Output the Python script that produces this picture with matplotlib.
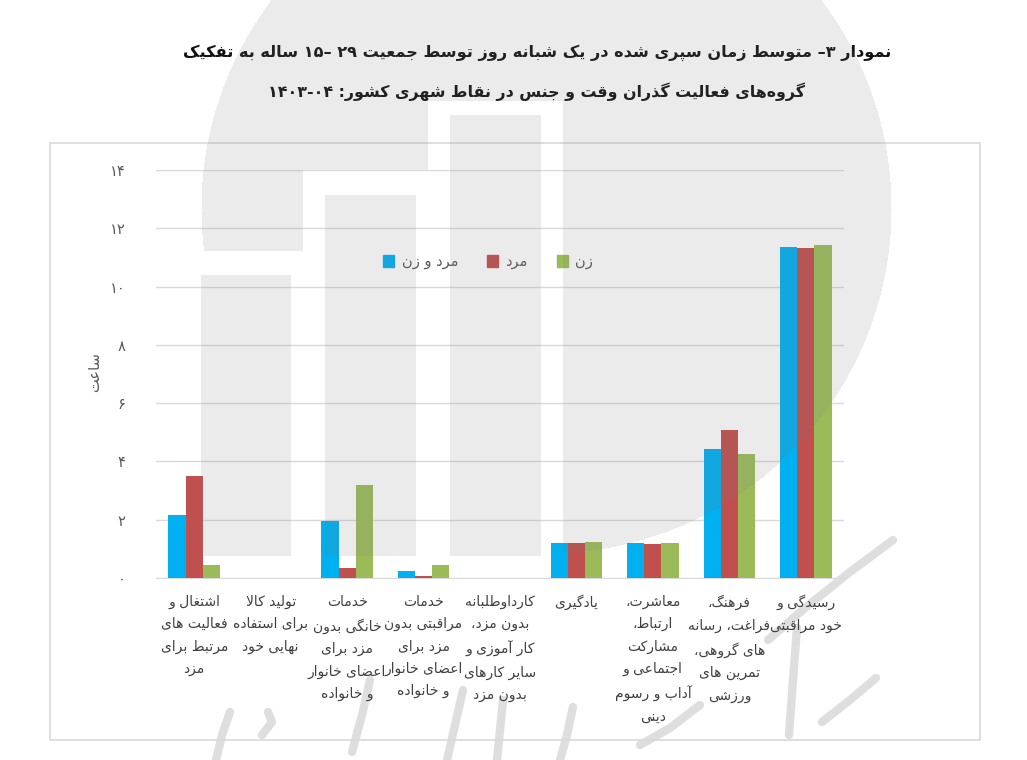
import matplotlib
matplotlib.use("Agg")
import matplotlib.pyplot as plt
from matplotlib.patches import Rectangle, Patch
import numpy as np

# data (hours per day)
categories = [
    "اشتغال و\nفعالیت های\nمرتبط برای\nمزد",
    "تولید کالا\nبرای استفاده\nنهایی خود",
    "خدمات\nخانگی بدون\nمزد برای\nاعضای خانوار\nو خانواده",
    "خدمات\nمراقبتی بدون\nمزد برای\nاعضای خانوار\nو خانواده",
    "کارداوطلبانه\nبدون مزد،\nکار آموزی و\nسایر کارهای\nبدون مزد",
    "یادگیری",
    "معاشرت،\nارتباط،\nمشارکت\nاجتماعی و\nآداب و رسوم\nدینی",
    "فرهنگ،\nفراغت، رسانه\nهای گروهی،\nتمرین های\nورزشی",
    "رسیدگی و\nخود مراقبتی",
]
both = [2.16, 0.0, 1.97, 0.23, 0.0, 1.19, 1.19, 4.44, 11.37]
men = [3.50, 0.0, 0.33, 0.07, 0.0, 1.19, 1.17, 5.07, 11.33]
women = [0.45, 0.01, 3.19, 0.43, 0.0, 1.23, 1.21, 4.25, 11.43]
series_names = ["مرد و زن", "مرد", "زن"]
yticks = [0, 2, 4, 6, 8, 10, 12, 14]
title1 = "نمودار ۳– متوسط زمان سپری شده در یک شبانه روز توسط جمعیت ۲۹ –۱۵ ساله به تفکیک"
title2 = "گروه‌های فعالیت گذران وقت و جنس در نقاط شهری کشور: ۱۴۰۳-۰۴"
ylabel = "ساعت"

# ---- simple persian shaping + visual order (no reshaper lib available) ----
DUAL = {
    'ئ': (0xFE89, 0xFE8A, 0xFE8B, 0xFE8C), 'ب': (0xFE8F, 0xFE90, 0xFE91, 0xFE92),
    'ت': (0xFE95, 0xFE96, 0xFE97, 0xFE98), 'ث': (0xFE99, 0xFE9A, 0xFE9B, 0xFE9C),
    'ج': (0xFE9D, 0xFE9E, 0xFE9F, 0xFEA0), 'ح': (0xFEA1, 0xFEA2, 0xFEA3, 0xFEA4),
    'خ': (0xFEA5, 0xFEA6, 0xFEA7, 0xFEA8), 'س': (0xFEB1, 0xFEB2, 0xFEB3, 0xFEB4),
    'ش': (0xFEB5, 0xFEB6, 0xFEB7, 0xFEB8), 'ص': (0xFEB9, 0xFEBA, 0xFEBB, 0xFEBC),
    'ض': (0xFEBD, 0xFEBE, 0xFEBF, 0xFEC0), 'ط': (0xFEC1, 0xFEC2, 0xFEC3, 0xFEC4),
    'ظ': (0xFEC5, 0xFEC6, 0xFEC7, 0xFEC8), 'ع': (0xFEC9, 0xFECA, 0xFECB, 0xFECC),
    'غ': (0xFECD, 0xFECE, 0xFECF, 0xFED0), 'ف': (0xFED1, 0xFED2, 0xFED3, 0xFED4),
    'ق': (0xFED5, 0xFED6, 0xFED7, 0xFED8), 'ك': (0xFED9, 0xFEDA, 0xFEDB, 0xFEDC),
    'ل': (0xFEDD, 0xFEDE, 0xFEDF, 0xFEE0), 'م': (0xFEE1, 0xFEE2, 0xFEE3, 0xFEE4),
    'ن': (0xFEE5, 0xFEE6, 0xFEE7, 0xFEE8), 'ه': (0xFEE9, 0xFEEA, 0xFEEB, 0xFEEC),
    'ي': (0xFEF1, 0xFEF2, 0xFEF3, 0xFEF4), 'پ': (0xFB56, 0xFB57, 0xFB58, 0xFB59),
    'چ': (0xFB7A, 0xFB7B, 0xFB7C, 0xFB7D), 'ک': (0xFB8E, 0xFB8F, 0xFB90, 0xFB91),
    'گ': (0xFB92, 0xFB93, 0xFB94, 0xFB95), 'ی': (0xFBFC, 0xFBFD, 0xFBFE, 0xFBFF),
}
RIGHT = {
    'آ': (0xFE81, 0xFE82), 'أ': (0xFE83, 0xFE84), 'ؤ': (0xFE85, 0xFE86),
    'إ': (0xFE87, 0xFE88), 'ا': (0xFE8D, 0xFE8E), 'ة': (0xFE93, 0xFE94),
    'د': (0xFEA9, 0xFEAA), 'ذ': (0xFEAB, 0xFEAC), 'ر': (0xFEAD, 0xFEAE),
    'ز': (0xFEAF, 0xFEB0), 'و': (0xFEED, 0xFEEE), 'ژ': (0xFB8A, 0xFB8B),
}
LAMALEF = {'آ': (0xFEF5, 0xFEF6), 'أ': (0xFEF7, 0xFEF8), 'إ': (0xFEF9, 0xFEFA), 'ا': (0xFEFB, 0xFEFC)}


def shape(s):
    # merge lam+alef first
    chars = []
    i = 0
    while i < len(s):
        if s[i] == 'ل' and i + 1 < len(s) and s[i + 1] in LAMALEF:
            chars.append(('LA', s[i + 1]))
            i += 2
        else:
            chars.append(('C', s[i]))
            i += 1

    def joins_next(item):  # can connect to the following letter
        return item[0] == 'C' and item[1] in DUAL

    def joins_prev(item):  # can connect to the preceding letter
        return item[0] == 'LA' or item[1] in DUAL or item[1] in RIGHT

    out = []
    for k, item in enumerate(chars):
        prev = chars[k - 1] if k > 0 else None
        nxt = chars[k + 1] if k + 1 < len(chars) else None
        p = prev is not None and joins_next(prev) and joins_prev(item)
        n = nxt is not None and joins_next(item) and joins_prev(nxt)
        if item[0] == 'LA':
            out.append(chr(LAMALEF[item[1]][1 if p else 0]))
            continue
        c = item[1]
        if c in DUAL:
            f = DUAL[c]
            out.append(chr(f[3] if (p and n) else f[1] if p else f[2] if n else f[0]))
        elif c in RIGHT:
            out.append(chr(RIGHT[c][1 if p else 0]))
        elif c == '\u200c':
            continue
        else:
            out.append(c)
    return ''.join(out)


def visual(s):
    s = shape(s)[::-1]
    res, run = [], []
    for c in s:
        if c.isdigit() or (c == '-' and run):
            run.append(c)
        else:
            if run:
                res.append(''.join(run[::-1]))
                run = []
            res.append(c)
    if run:
        res.append(''.join(run[::-1]))
    return ''.join(res)


def fa(s):
    return '\n'.join(visual(line) for line in s.split('\n'))


def fa_num(n):
    return str(n).translate(str.maketrans('0123456789', '۰۱۲۳۴۵۶۷۸۹'))


plt.rcParams['font.family'] = ['DejaVu Sans']

fig = plt.figure(figsize=(10.27, 7.6), dpi=100)
W, H = 1027, 760

# watermark logo (light grey overlay)
yy, xx = np.mgrid[0:H, 0:W]
circle = (xx - 546) ** 2 + (yy - 208) ** 2 <= 345 ** 2
cut = ((xx >= 180) & (xx <= 324) & (yy >= 251)) | ((xx >= 303) & (xx <= 449) & (yy >= 170)) | \
      ((xx >= 428) & (xx <= 562) & (yy >= 101))
bars_logo = ((xx >= 201) & (xx <= 290) & (yy >= 275) & (yy <= 555)) | \
            ((xx >= 325) & (xx <= 415) & (yy >= 195) & (yy <= 555)) | \
            ((xx >= 450) & (xx <= 540) & (yy >= 115) & (yy <= 555))
mask = (circle & ~cut) | bars_logo
overlay = np.zeros((H, W, 4))
overlay[..., :3] = 0.5
overlay[..., 3] = np.where(mask, 0.15, 0.0)
fig.figimage(overlay, 0, 0, origin='upper', zorder=5)

# calligraphy strokes of the watermark (rough), behind the axes
strokes = [
    [(893, 540), (850, 572), (805, 608), (768, 640)],
    [(797, 628), (793, 680), (789, 735)],
    [(876, 678), (850, 700), (822, 722)],
    [(230, 712), (222, 735), (216, 760)],
    [(268, 712), (272, 722), (262, 735)],
    [(370, 680), (362, 715), (352, 752)],
    [(463, 690), (455, 725), (447, 760)],
    [(503, 700), (500, 730), (497, 760)],
    [(573, 707), (567, 735), (560, 760)],
    [(700, 705), (670, 728), (640, 745)],
]
for pts in strokes:
    px = [p[0] / W for p in pts]
    py = [1 - p[1] / H for p in pts]
    fig.add_artist(plt.Line2D(px, py, transform=fig.transFigure, color='#dedede',
                              lw=6, solid_capstyle='round', solid_joinstyle='round', zorder=-2))

# outer frame
fig.add_artist(Rectangle((50 / W, 1 - 740 / H), 930 / W, (740 - 143) / H, transform=fig.transFigure,
                         fill=False, ec='#d9d9d9', lw=1.2, zorder=-1))

ax = fig.add_axes([156 / W, 1 - 578 / H, 688 / W, 408 / H])
ax.patch.set_alpha(0)
x = np.arange(len(categories))
bw = 0.225
colors = ['#00B0F0', '#C0504D', '#9BBB59']
for k, vals in enumerate([both, men, women]):
    ax.bar(x + (k - 1) * bw, vals, width=bw, color=colors[k], zorder=3)

ax.set_xlim(-0.5, len(categories) - 0.5)
ax.set_ylim(0, 14)
ax.set_yticks(yticks)
ax.set_yticklabels([fa_num(v) for v in yticks], fontsize=10.5, color='#595959')
ax.set_xticks(x)
ax.set_xticklabels([fa(c) for c in categories], fontsize=10, color='#404040', linespacing=1.75, va='top')
ax.tick_params(axis='both', length=0)
ax.tick_params(axis='y', pad=22)
ax.tick_params(axis='x', pad=12)
ax.yaxis.grid(True, color='#d9d9d9', lw=1)
ax.set_axisbelow(True)
for sp in ['top', 'right', 'left']:
    ax.spines[sp].set_visible(False)
ax.spines['bottom'].set_color('#d9d9d9')

handles = [Patch(color=c) for c in colors]
ax.legend(handles, [fa(n) for n in series_names], loc='center', bbox_to_anchor=(0.483, 0.775), ncol=3,
          frameon=False, fontsize=10.5, handlelength=0.75, handleheight=0.9, handletextpad=0.5,
          columnspacing=2.0, labelcolor='#595959')

fig.text(95 / W, 1 - 372 / H, fa(ylabel), rotation=90, ha='center', va='center', fontsize=10.5, color='#595959')
fig.text(537 / W, 1 - 53 / H, fa(title1), ha='center', va='center', fontsize=11.6, fontweight='bold', color='#111111')
fig.text(537 / W, 1 - 92 / H, fa(title2), ha='center', va='center', fontsize=11.4, fontweight='bold', color='#111111')

fig.savefig('out.png', dpi=100)
